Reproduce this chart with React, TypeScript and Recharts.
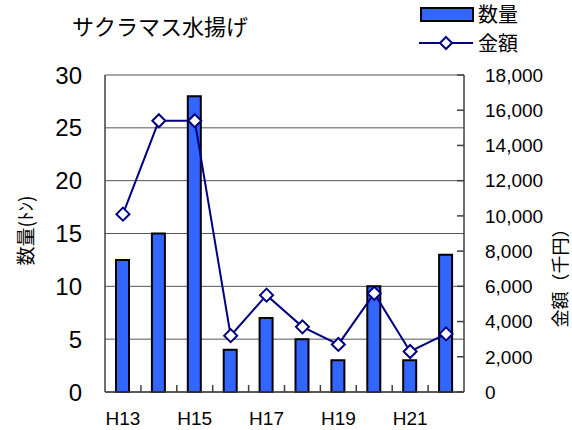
import { ComposedChart, Bar, Line, XAxis, YAxis, CartesianGrid } from 'recharts';

const years = ['H13', 'H14', 'H15', 'H16', 'H17', 'H18', 'H19', 'H20', 'H21', 'H22'];
// 数量 (トン)
const quantity = [12.5, 15, 28, 4, 7, 5, 3, 10, 3, 13];
// 金額 (千円)
const amount = [10100, 15400, 15400, 3200, 5500, 3700, 2700, 5600, 2300, 3300];
const leftTicks = [0, 5, 10, 15, 20, 25, 30];
const rightTicks = [0, 2000, 4000, 6000, 8000, 10000, 12000, 14000, 16000, 18000];

const data = years.map((year, i) => ({ year, quantity: quantity[i], amount: amount[i] }));

const FONT = '"Liberation Sans", Arial, "Noto Sans CJK JP", sans-serif';
const JP_FONT = '"Noto Sans CJK JP", "Liberation Sans", sans-serif';
const BAR_FILL = '#3366ff';
const LINE_COLOR = '#000080';
const AXIS_COLOR = '#404040';

const W = 572;
const H = 430;
const PLOT_LEFT = 105;
const PLOT_RIGHT = 464;
const PLOT_TOP = 75;
const PLOT_BOTTOM = 392;
const HALF_BAND = (PLOT_RIGHT - PLOT_LEFT) / years.length / 2;

function Diamond(props: any) {
  const { cx, cy } = props;
  if (cx == null || cy == null) return null;
  const r = 6.5;
  return (
    <polygon
      points={`${cx},${cy - r} ${cx + r},${cy} ${cx},${cy + r} ${cx - r},${cy}`}
      fill="#fff"
      stroke={LINE_COLOR}
      strokeWidth={2}
    />
  );
}

function YearTick(props: any) {
  const { x, y, payload, index } = props;
  return (
    <g>
      {index > 0 && (
        <line x1={x - HALF_BAND} x2={x - HALF_BAND} y1={y} y2={y - 7} stroke={AXIS_COLOR} strokeWidth={1.5} />
      )}
      {index % 2 === 0 && (
        <text x={x} y={y + 33} textAnchor="middle" fontSize={19} fontFamily={FONT} fill="#000">
          {payload.value}
        </text>
      )}
    </g>
  );
}

export default function App() {
  return (
    <div style={{ position: 'absolute', left: 0, top: 0, width: W, height: H, background: '#fff' }}>
      <div
        style={{
          position: 'absolute',
          left: 72,
          top: 12,
          fontSize: 22,
          lineHeight: '26px',
          fontFamily: JP_FONT,
          color: '#000',
          whiteSpace: 'nowrap',
        }}
      >
        サクラマス水揚げ
      </div>

      {/* legend */}
      <div style={{ position: 'absolute', left: 419, top: 0, width: 150, height: 60, fontFamily: JP_FONT }}>
        <div
          style={{
            position: 'absolute',
            left: 1,
            top: 7,
            width: 50,
            height: 11,
            background: BAR_FILL,
            border: '2px solid #000',
          }}
        />
        <div style={{ position: 'absolute', left: 59, top: 1, fontSize: 20, lineHeight: '26px', whiteSpace: 'nowrap' }}>
          数量
        </div>
        <svg style={{ position: 'absolute', left: 0, top: 33 }} width={56} height={20}>
          <line x1={0} x2={54} y1={10} y2={10} stroke={LINE_COLOR} strokeWidth={2} />
          <polygon points="27,4 33,10 27,16 21,10" fill="#fff" stroke={LINE_COLOR} strokeWidth={2} />
        </svg>
        <div style={{ position: 'absolute', left: 59, top: 30, fontSize: 20, lineHeight: '26px', whiteSpace: 'nowrap' }}>
          金額
        </div>
      </div>

      <div style={{ position: 'absolute', left: 0, top: 0 }}>
        <ComposedChart
          width={W}
          height={H}
          data={data}
          margin={{ top: PLOT_TOP, right: 0, bottom: 0, left: 0 }}
          barCategoryGap={0}
        >
          <CartesianGrid yAxisId="left" vertical={false} stroke="#555" strokeWidth={1} />
          <XAxis
            dataKey="year"
            height={H - PLOT_BOTTOM}
            interval={0}
            tickLine={false}
            tickSize={0}
            tickMargin={0}
            axisLine={{ stroke: AXIS_COLOR, strokeWidth: 1.5 }}
            tick={<YearTick />}
          />
          <YAxis
            yAxisId="left"
            width={PLOT_LEFT}
            domain={[0, 30]}
            ticks={leftTicks}
            tickLine={false}
            tickSize={0}
            tickMargin={23}
            axisLine={{ stroke: AXIS_COLOR, strokeWidth: 1.5 }}
            tick={{ fontSize: 24, fontFamily: FONT, fill: '#000' }}
            label={{
              value: '数量(ﾄﾝ)',
              angle: -90,
              position: 'center',
              dx: -26,
              dy: -3,
              style: { fontSize: 19, fontFamily: JP_FONT, fill: '#000' },
            }}
          />
          <YAxis
            yAxisId="right"
            orientation="right"
            width={W - PLOT_RIGHT}
            domain={[0, 18000]}
            ticks={rightTicks}
            tickSize={-7}
            tickMargin={28}
            tickLine={{ stroke: AXIS_COLOR, strokeWidth: 1.5 }}
            axisLine={{ stroke: AXIS_COLOR, strokeWidth: 1.5 }}
            tickFormatter={(v: number) => v.toLocaleString('en-US')}
            tick={{ fontSize: 19, fontFamily: FONT, fill: '#000', textAnchor: 'start' }}
            label={{
              value: '金額（千円）',
              angle: -90,
              position: 'center',
              dx: 43,
              dy: 40,
              style: { fontSize: 18, fontFamily: JP_FONT, fill: '#000' },
            }}
          />
          <Bar
            yAxisId="left"
            dataKey="quantity"
            name="数量"
            fill={BAR_FILL}
            stroke="#000"
            strokeWidth={2}
            barSize={13}
            isAnimationActive={false}
          />
          <Line
            yAxisId="right"
            dataKey="amount"
            name="金額"
            type="linear"
            stroke={LINE_COLOR}
            strokeWidth={2}
            dot={<Diamond />}
            activeDot={false}
            isAnimationActive={false}
          />
        </ComposedChart>
      </div>
    </div>
  );
}
